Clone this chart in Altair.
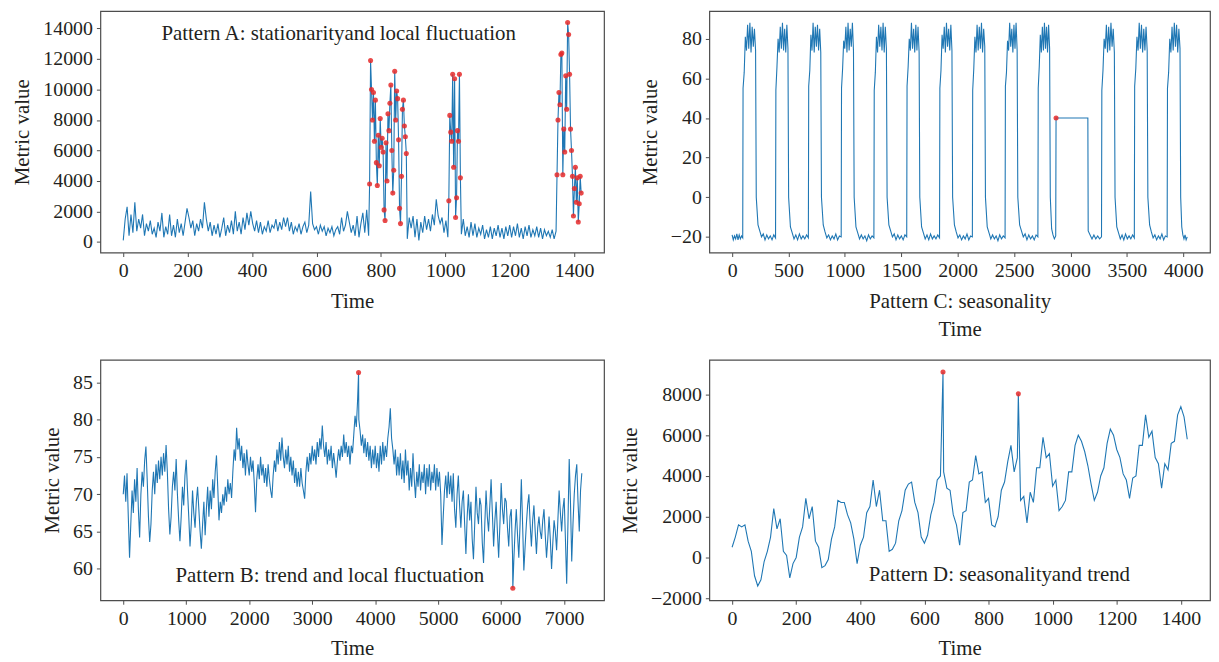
import altair as alt
import numpy as np
import pandas as pd

FONT = "Liberation Serif"
BLUE = "#1f77b4"
RED = "#e52a2a"
TXT = "#231f20"
FRAME = "#4d4d4d"

# ---------------- Pattern A (stationarity and local fluctuation) ----------------
a_seg_start = [0, 765, 882, 1011, 1050, 1347]
a_seg_step = [6, 3, 6, 3, 6, 3]
a_seg_anom = [False, True, False, True, False, True]
a_seg1 = [100, 1500, 2300, 400, 1800, 600, 2600, 700, 1500, 900, 1800, 400, 1200, 700, 1400, 500,
          900, 300, 1300, 700, 1900, 300, 1000, 500, 1800, 400, 1100, 300, 1500, 600, 1200, 400,
          1300, 2200, 1600, 900, 1400, 400, 1200, 700, 1500, 900, 2600, 1500, 700, 1300, 400, 1100,
          500, 1200, 300, 900, 1600, 400, 1100, 600, 1400, 500, 2000, 700, 1300, 500, 1600, 800,
          1900, 1100, 2000, 1200, 700, 1400, 600, 1300, 500, 1000, 700, 1400, 600, 1100, 900, 1500,
          700, 1300, 800, 1600, 1000, 1600, 700, 1300, 500, 1000, 700, 1200, 500, 1000, 1300, 600,
          1100, 3300, 1200, 800, 1000, 500, 1100, 700, 1000, 400, 900, 600, 1000, 400, 800, 1000,
          500, 1600, 700, 1100, 2000, 1300, 600, 1100, 400, 1700, 300, 1200, 1900, 600, 2100, 400]
a_seg2 = [3800, 11900, 10000, 8000, 9800, 6600, 9300, 5200, 3700, 7000, 5000, 8100, 6200, 6800,
          5900, 2100, 1400, 6500, 4000, 8400, 7300, 9100, 10300, 6000, 3200, 4700, 11200, 8000,
          9900, 9400, 6700, 2200, 1200, 4300, 8700, 9300, 7600, 6900, 5800]
a_seg3 = [200, 1600, 900, 1700, 300, 1500, 100, 1300, 600, 1700, 800, 1500, 700, 1800, 1100, 2800,
          1700, 1200, 1600, 600, 1400, 300]
a_seg4 = [2700, 8300, 7200, 6600, 11000, 4900, 10700, 1600, 2900, 7300, 6600, 11000, 4200]
a_seg5 = [500, 1500, 400, 1000, 300, 1300, 400, 1200, 300, 900, 500, 1100, 200, 800, 300, 1000,
          200, 900, 400, 1100, 300, 900, 200, 1000, 400, 1100, 300, 1000, 400, 1200, 300, 900,
          200, 1000, 400, 1100, 300, 800, 400, 1000, 300, 900, 200, 800, 400, 700, 300, 800, 200, 700]
a_seg6 = [4400, 8000, 9800, 9000, 12300, 12400, 4400, 7400, 5900, 10900, 8700, 14400, 13600, 11000,
          7400, 6000, 4300, 1700, 3500, 4900, 2600, 4200, 1300, 2500, 4300, 3200]
a_segs = [a_seg1, a_seg2, a_seg3, a_seg4, a_seg5, a_seg6]

# ---------------- Pattern B (trend and local fluctuation) ----------------
b_step = 20
b_vals = [
    70, 72.5, 69, 72.8, 67, 61.5, 66, 70.5, 67.5, 72, 69, 73.5, 68, 64.2, 70, 73, 71, 74.5, 76.4, 72,
    67, 63.6, 66, 70.5, 73, 70, 74, 71.5, 74.5, 72, 75, 72.5, 75.5, 73, 76.6, 73, 68, 64.6, 67, 71,
    73, 70.5, 74.7, 70, 66.5, 63.7, 67, 71, 68.5, 72.5, 74.6, 70.5, 67, 63, 66, 70.5, 67.5, 65.5, 69, 71,
    68, 65, 62.7, 66, 69, 64.5, 68, 71, 67, 70.5, 68, 72, 69.5, 73, 75.2, 71, 66.5, 69, 67.5, 70,
    68.5, 71, 69, 72, 70, 71.5, 69.5, 73, 76, 74.5, 78.9, 76, 77.5, 74.5, 76.5, 73.5, 75.5, 72.5, 76, 74,
    72.5, 75, 73, 74.5, 71.5, 67.6, 72, 74, 72, 75, 72.5, 74, 71.5, 73.5, 71, 74, 72, 70.5, 69.5, 72.5,
    74.5, 73, 76, 74, 77, 74.5, 77.6, 75, 73.5, 76, 74, 76.5, 73, 75, 72.5, 74.5, 71.5, 73.5, 71, 73,
    71, 73.5, 71.5, 70.5, 69.4, 73, 75, 73, 75.5, 74, 76.5, 74.5, 76, 74, 77, 75, 77.5, 76, 79.2, 76.5,
    75, 77, 74, 76, 74.5, 76.5, 73.5, 75.5, 74, 72.2, 74.5, 76, 74.5, 76.5, 75, 78, 75.5, 77, 75, 76.5,
    74, 76.5, 75.5, 78, 80.5, 79, 82.5, 80, 78.5, 76.5, 78, 75.5, 77.5, 75, 77, 74.5, 76.5, 73.5, 76, 74,
    76.5, 73.5, 75.5, 73, 76.5, 74, 77, 74.5, 76.5, 75, 77.5, 79, 81.5, 77.5, 76, 74, 76, 72.5, 75, 72.5,
    75.5, 72, 74.5, 71.5, 76, 72.5, 74.5, 70.5, 73.5, 71, 75.5, 72, 69.5, 73, 71, 74, 70.5, 73, 71.5, 74,
    70, 73.5, 71, 74, 70.5, 73, 71.5, 74, 70.5, 73.5, 71, 73, 70, 63.2, 67, 70.5, 72.5, 69.5, 73, 70,
    72.5, 69, 72.8, 68, 65.5, 70, 72.5, 68.5, 65.5, 69, 70.5, 66, 62, 67, 70, 66.5, 69, 64, 61.3, 66,
    71, 67.5, 66, 69.5, 68.5, 63.5, 60.8, 66, 70.5, 67, 65, 68.5, 72, 67.5, 63, 66.5, 69, 65, 61.5, 66,
    71.5, 68, 66, 69.5, 69, 65.5, 63, 67, 68, 62, 61, 65, 68, 64.5, 61.5, 66, 72, 66, 59.8, 63,
    66, 68.5, 70, 66, 63, 66.5, 68.5, 65, 62, 65.5, 67, 65, 64, 66.5, 68, 64.5, 61.5, 64, 67, 64,
    60, 63.5, 66.5, 65, 62.5, 66.5, 70.5, 67.5, 65, 68, 69.5, 64, 58, 66, 74.7, 69, 61, 66, 70, 72.5,
    74, 69, 65, 70.5, 72.8]
b_anom_t = [3736, 6185]
b_anom_v = [86.3, 57.4]

# ---------------- Pattern C (seasonality) ----------------
c_seg_start = [0, 97, 214, 388, 501, 679, 792, 970, 1082, 1260, 1374, 1551, 1664, 1842, 1955,
               2133, 2246, 2423, 2533, 2714, 2821, 2872, 3157, 3278, 3395, 3569, 3686, 3860, 3977]
c_seg_end = [94, 208, 385, 495, 676, 786, 967, 1076, 1257, 1368, 1548, 1658, 1839, 1949, 2130,
             2240, 2420, 2527, 2711, 2815, 2869, 3154, 3275, 3389, 3566, 3680, 3857, 3971, 4035]
c_seg_vals = [
    [-19, -21.5, -19.5, -21, -18.5, -21.5, -19, -21, -19.5, -20.5],
    [55, 63, 81, 74, 87, 75, 88, 73, 86, 76, 85, 74],
    [0, -14, -17, -20, -18.5, -21.5, -19, -21, -19.5, -21.5, -19, -20.5],
    [54, 66, 80, 73, 86, 75, 88, 74, 85, 73, 87, 75],
    [0, -15, -18, -21, -19, -21.5, -18.5, -21, -19.5, -21, -19, -20.5],
    [56, 64, 82, 74, 88, 73, 86, 76, 87, 74, 85, 73],
    [0, -14, -17.5, -20.5, -19, -21.5, -19.5, -21, -18.5, -21.5, -19.5, -20],
    [55, 65, 79, 75, 86, 73, 88, 74, 85, 76, 88, 74],
    [0, -15, -18, -21, -19, -21, -19.5, -22, -19, -21, -19.5, -20.5],
    [54, 63, 81, 73, 87, 76, 86, 74, 88, 73, 86, 75],
    [0, -14, -17, -20, -18.5, -21.5, -19, -21, -19.5, -21.5, -19, -20],
    [56, 66, 80, 74, 88, 75, 85, 73, 87, 74, 86, 73],
    [0, -15, -18, -21, -19, -21.5, -18.5, -21, -19.5, -21, -19, -20.5],
    [55, 64, 82, 75, 86, 73, 88, 76, 85, 74, 87, 74],
    [0, -14, -17.5, -20.5, -19, -21.5, -19.5, -21, -18.5, -21.5, -19.5, -20],
    [54, 65, 81, 73, 87, 74, 86, 75, 88, 73, 85, 76],
    [0, -15, -18, -21, -19, -21, -19.5, -22, -19, -21, -19.5, -20.5],
    [56, 63, 79, 74, 88, 76, 85, 73, 87, 75, 88, 74],
    [0, -14, -17, -20, -18.5, -21.5, -19, -21, -19.5, -21.5, -19, -20],
    [55, 66, 82, 73, 86, 74, 88, 75, 86, 73, 87, 75],
    [0, -16, -19, -21, -19.5],
    [40, 40],
    [-17, -19, -21, -19, -21, -19.5, -21, -20],
    [54, 64, 80, 75, 87, 73, 86, 74, 88, 76, 85, 73],
    [0, -15, -18, -21, -19, -21.5, -18.5, -21, -19.5, -21, -19, -20.5],
    [56, 65, 81, 74, 88, 75, 87, 73, 85, 74, 86, 74],
    [0, -14, -17.5, -20.5, -19, -21.5, -19.5, -21, -18.5, -21.5, -19.5, -20],
    [55, 63, 80, 73, 86, 74, 88, 76, 87, 73, 85, 75],
    [0, -15, -19, -21, -19, -21.5, -20],
]
c_anom_t = [2872]

# ---------------- Pattern D (seasonality and trend) ----------------
d_step = 10
d_vals = [500, 1000, 1600, 1500, 1600, 800, 300, -900, -1400, -1100,
          -200, 300, 1000, 2400, 1400, 1900, 300, 100, -1000, -300,
          0, 1000, 1500, 2900, 1900, 2500, 800, 500, -500, -400,
          -100, 900, 1500, 2800, 2700, 2700, 2100, 1700, 900, -300,
          600, 1000, 2200, 2500, 3800, 2500, 3300, 1800, 1800, 300,
          400, 700, 1800, 2300, 3300, 3600, 3700, 2700, 2200, 1000,
          700, 1100, 2100, 2700, 3800, 4000, 4200, 3400, 3300, 2100,
          1600, 600, 2200, 2300, 3700, 3800, 5000, 4100, 4200, 2700,
          2900, 1600, 1500, 2000, 3300, 3700, 4700, 5500, 4200, 4900,
          2800, 3000, 1700, 3200, 2700, 4400, 4400, 5900, 4900, 5100,
          3500, 3800, 2300, 2500, 2800, 4200, 4200, 5500, 6000, 5700,
          5200, 4500, 3600, 2800, 3200, 4000, 4400, 5600, 6300, 6000,
          5300, 4900, 4100, 3800, 2900, 3900, 4000, 5500, 5500, 7000,
          5900, 6200, 4900, 4600, 3400, 4600, 4300, 5600, 5700, 7000,
          7400, 6900, 5800]
d_anom_t = [658, 893]
d_anom_v = [9100, 8030]

# ---------------- build tables ----------------
rows = []
for s, st, an, vals in zip(a_seg_start, a_seg_step, a_seg_anom, a_segs):
    for k, v in enumerate(vals):
        rows.append((s + st * k, v, an))
df_a = pd.DataFrame(rows, columns=["t", "v", "anom"])

df_b = pd.DataFrame({"t": np.arange(len(b_vals)) * b_step, "v": b_vals, "anom": False})
df_b = pd.concat([df_b, pd.DataFrame({"t": b_anom_t, "v": b_anom_v, "anom": True})]).sort_values("t")

rows = []
for s, e, vals in zip(c_seg_start, c_seg_end, c_seg_vals):
    ts = np.linspace(s, e, len(vals))
    for t, v in zip(ts, vals):
        rows.append((float(t), v, bool(round(t) in c_anom_t)))
df_c = pd.DataFrame(rows, columns=["t", "v", "anom"])

df_d = pd.DataFrame({"t": np.arange(len(d_vals)) * d_step, "v": d_vals, "anom": False})
df_d = pd.concat([df_d, pd.DataFrame({"t": d_anom_t, "v": d_anom_v, "anom": True})]).sort_values("t")


def panel(df, xdom, xticks, ydom, yticks, w, h, xtitle, note=None):
    x = alt.X("t:Q", scale=alt.Scale(domain=xdom, nice=False, zero=False),
              axis=alt.Axis(values=xticks, tickCount=len(xticks) + 2, title=xtitle, format="d",
                            titleLineHeight=29, labelOverlap=False))
    y = alt.Y("v:Q", scale=alt.Scale(domain=ydom, nice=False, zero=False),
              axis=alt.Axis(values=yticks, tickCount=len(yticks) + 2, title="Metric value",
                            format="d", labelOverlap=False))
    line = alt.Chart(df).mark_line(color=BLUE, strokeWidth=1.1, clip=True).encode(x=x, y=y)
    pts = alt.Chart(df).transform_filter("datum.anom").mark_circle(
        color=RED, size=26, opacity=0.85).encode(x="t:Q", y="v:Q")
    layers = [line, pts]
    if note is not None:
        nd = pd.DataFrame({"t": [note[0]], "v": [note[1]], "label": [note[2]]})
        layers.append(alt.Chart(nd).mark_text(font=FONT, fontSize=21, color=TXT, align="center",
                                              baseline="middle").encode(x="t:Q", y="v:Q", text="label:N"))
    return alt.layer(*layers).properties(width=w, height=h)


pA = panel(df_a, [-71, 1493], list(range(0, 1401, 200)), [-700, 15140], list(range(0, 14001, 2000)),
           507, 243, "Time", (669, 13640, "Pattern A: stationarityand local fluctuation"))
pC = panel(df_c, [-202, 4237], list(range(0, 4001, 500)), [-27.9, 93.9], list(range(-20, 81, 20)),
           504, 243, ["Pattern C: seasonality", "Time"])
pB = panel(df_b, [-363, 7633], list(range(0, 7001, 1000)), [55.8, 88], list(range(60, 86, 5)),
           507, 242, "Time", (3280, 59.1, "Pattern B: trend and local fluctuation"))
pD = panel(df_d, [-71, 1491], list(range(0, 1401, 200)), [-2100, 9700], list(range(-2000, 8001, 2000)),
           504, 242, "Time", (834, -866, "Pattern D: seasonalityand trend"))

chart = alt.concat(pA, pC, pB, pD, columns=2, spacing={"row": 108, "column": 106}, bounds="flush").properties(
    padding={"left": 3, "top": 0, "right": 0, "bottom": 0}
).configure_view(stroke=FRAME, strokeWidth=1.2).configure_axis(
    labelFont=FONT, labelFontSize=20, titleFont=FONT, titleFontSize=21, titleFontWeight="normal",
    labelColor=TXT, titleColor=TXT, domain=False, grid=False, tickColor=FRAME, tickSize=4,
    labelPadding=4, titlePadding=10
)

chart.save("out.html", embed_options={"renderer": "svg", "actions": False})
